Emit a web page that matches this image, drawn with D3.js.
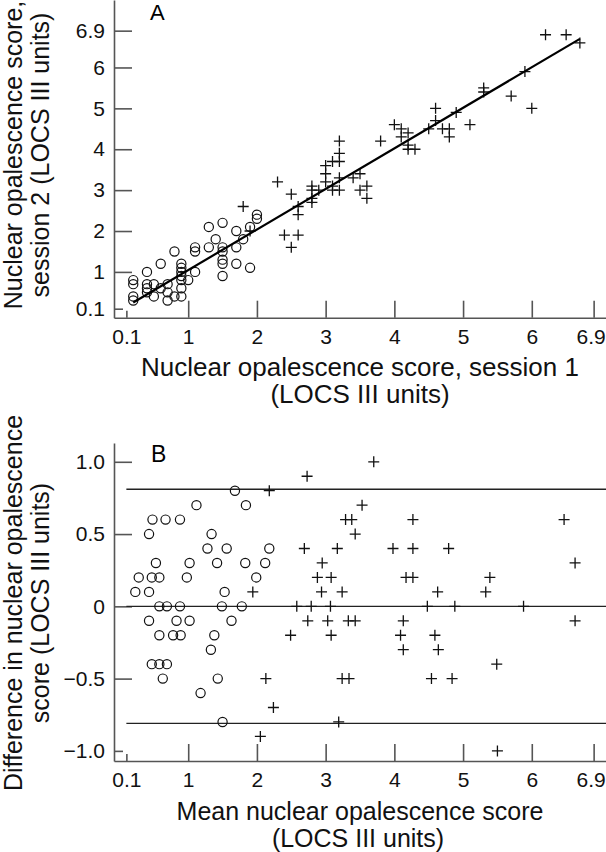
<!DOCTYPE html>
<html><head><meta charset="utf-8">
<script src="https://cdn.jsdelivr.net/npm/d3@7"></script>
<style>body{margin:0;background:#fff}svg{display:block}</style>
</head><body><svg id="c" width="606" height="852"></svg>
<script>
// ---------- data ----------
const xTickValues = [0.1, 1, 2, 3, 4, 5, 6, 6.9];
const xTickLabels = ["0.1", "1", "2", "3", "4", "5", "6", "6.9"];
const aYTickValues = [0.1, 1, 2, 3, 4, 5, 6, 6.9];
const aYTickLabels = ["0.1", "1", "2", "3", "4", "5", "6", "6.9"];
const bYTickValues = [-1, -0.5, 0, 0.5, 1];
const bYTickLabels = ["\u22121.0", "\u22120.5", "0", "0.5", "1.0"];

// Panel A: circles (session 1, session 2)
const circS1 = [0.2,0.2,0.2,0.2, 0.4,0.4,0.4,0.4, 0.5,0.5, 0.6,0.6, 0.7,0.7,0.7, 0.8,0.8,
  0.9,0.9,0.9,0.9,0.9,0.9,0.9, 1.0, 1.1,1.1,1.1, 1.3,1.3, 1.4, 1.5,1.5,1.5,1.5,1.5,1.5,
  1.7,1.7,1.7, 1.8, 1.9,1.9, 2.0,2.0];
const circS2 = [0.8,0.7,0.4,0.3, 1.0,0.7,0.6,0.5, 0.7,0.4, 1.2,0.6, 0.7,0.5,0.3, 1.5,0.4,
  1.2,1.1,1.0,0.9,0.8,0.6,0.4, 0.8, 1.0,1.6,1.5, 2.1,1.6, 1.8, 2.2,1.6,1.5,1.3,1.2,0.9,
  2.0,1.6,1.2, 1.8, 2.1,1.1, 2.4,2.3];
// Panel A: crosses (session 1, session 2)
const crossS1 = [3.2,2.3,1.8,3.2,3.0,3.1,4.0,6.2,3.2,2.5,3.0,3.8,4.1,4.6,2.8,6.5,2.8,3.0,4.1,4.2,
  5.3,1.9,2.9,3.2,4.6,5.3,2.6,2.8,3.1,4.5,4.9,5.9,2.8,3.1,3.4,3.5,4.2,6.7,2.6,3.2,
  4.2,4.7,4.3,4.8,5.7,2.4,3.5,3.6,4.8,5.1,2.6,3.6,2.5,6.0];
const crossS2 = [4.2,3.2,2.6,3.9,3.6,3.7,4.6,6.8,3.7,2.9,3.4,4.2,4.5,5.0,3.1,6.8,3.0,3.2,4.3,4.4,
  5.5,2.0,3.0,3.3,4.7,5.4,2.6,2.8,3.1,4.5,4.9,5.9,2.7,3.0,3.3,3.4,4.1,6.6,2.4,3.0,
  4.0,4.5,4.0,4.5,5.3,1.9,3.0,3.1,4.3,4.6,1.9,2.8,1.6,5.0];
const fitX = [0.2, 6.7];
const fitY = [0.25, 6.7];

// Panel B: circles (mean, difference)
const bCircMean = [1.68, 1.12,1.84, 0.48,0.67,0.88, 0.43,1.34, 1.28,1.56,2.18,
  0.53,1.02,1.42,1.83,2.12, 0.28,0.47,0.58,0.98,1.99, 0.23,0.43,1.53,
  0.58,0.69,0.88,1.49,1.78, 0.43,0.83,1.02,1.63, 0.58,0.78,0.89,1.38, 1.33,
  0.47,0.58,0.69, 0.63,1.43, 1.18, 1.50];
const bCircDiff = [0.8, 0.7,0.7, 0.6,0.6,0.6, 0.5,0.5, 0.4,0.4,0.4,
  0.3,0.3,0.3,0.3,0.3, 0.2,0.2,0.2,0.2,0.2, 0.1,0.1,0.1,
  0,0,0,0,0, -0.1,-0.1,-0.1,-0.1, -0.2,-0.2,-0.2,-0.2, -0.3,
  -0.4,-0.4,-0.4, -0.5,-0.5, -0.6, -0.8];
// Panel B: crosses (mean, difference)
const bCrossMean = [3.7, 2.73, 2.18, 3.53, 3.29,3.38,4.27,6.47, 3.43,
  2.69,3.17,3.98,4.27,4.79, 2.95,6.63, 2.88,3.08,4.17,4.27,5.39,
  1.94,2.94,3.24,4.63,5.33, 2.58,2.79,3.07,4.48,4.88,5.88,
  2.74,3.03,3.33,3.43,4.13,6.63, 2.49,3.08,4.09,4.59, 4.13,4.64, 5.49,
  2.13,3.24,3.34,4.54,4.84, 2.24, 3.19, 2.05, 5.5];
const bCrossDiff = [1.0, 0.9, 0.8, 0.7, 0.6,0.6,0.6,0.6, 0.5,
  0.4,0.4,0.4,0.4,0.4, 0.3,0.3, 0.2,0.2,0.2,0.2,0.2,
  0.1,0.1,0.1,0.1,0.1, 0,0,0,0,0,0,
  -0.1,-0.1,-0.1,-0.1,-0.1,-0.1, -0.2,-0.2,-0.2,-0.2, -0.3,-0.3, -0.4,
  -0.5,-0.5,-0.5,-0.5,-0.5, -0.7, -0.8, -0.9, -1.0];
const limitValues = [0.81, 0, -0.81];

// ---------- layout ----------
const FONT = '"Liberation Sans", Arial, Helvetica, sans-serif';
const svg = d3.select("#c");
const axisColor = "#555";

const x = d3.scaleLinear().domain([-0.08, 7.08]).range([114, 606]);
const yA = d3.scaleLinear().domain([-0.12, 7.65]).range([317.7, 0]);
const yB = d3.scaleLinear().domain([-1.07, 1.13]).range([761, 443]);

function styleAxis(g) {
  g.attr("font-family", FONT).attr("font-size", 21);
  g.selectAll("path.domain").attr("stroke", axisColor).attr("stroke-width", 1.6);
  g.selectAll(".tick line").attr("stroke", axisColor).attr("stroke-width", 1.6);
  g.selectAll(".tick text").attr("fill", "#111");
}

function drawPanel(y, yTickVals, yTickLabs, shortYTick) {
  const gx = svg.append("g").attr("transform", `translate(0,${y.range()[0]})`)
    .call(d3.axisBottom(x).tickValues(xTickValues)
      .tickFormat((d, i) => xTickLabels[i]).tickSize(-17).tickSizeOuter(0).tickPadding(11));
  styleAxis(gx);
  gx.selectAll(".tick").filter(d => d === 0.1).select("line").attr("y2", -7);
  gx.selectAll(".tick").filter(d => d === 6.9).select("text").attr("dx", -3);

  const gy = svg.append("g").attr("transform", `translate(${x.range()[0]},0)`)
    .call(d3.axisLeft(y).tickValues(yTickVals)
      .tickFormat((d, i) => yTickLabs[i]).tickSize(-18).tickSizeOuter(0).tickPadding(9));
  styleAxis(gy);
  gy.selectAll(".tick").filter(d => d === shortYTick).select("line").attr("x2", 9);
}

function crosses(g, xs, ys, y) {
  g.selectAll(null).data(xs).join("path")
    .attr("d", (d, i) => `M${x(d) - 5.5},${y(ys[i])}h11M${x(d)},${y(ys[i]) - 5.5}v11`)
    .attr("stroke", "#111").attr("stroke-width", 1.3).attr("fill", "none");
}
function circles(g, xs, ys, y) {
  g.selectAll(null).data(xs).join("circle")
    .attr("cx", d => x(d)).attr("cy", (d, i) => y(ys[i])).attr("r", 4.6)
    .attr("fill", "none").attr("stroke", "#111").attr("stroke-width", 1.2);
}

// ---------- Panel A ----------
drawPanel(yA, aYTickValues, aYTickLabels, 0.1);
const gA = svg.append("g");
circles(gA, circS1, circS2, yA);
crosses(gA, crossS1, crossS2, yA);
gA.append("line")
  .attr("x1", x(fitX[0])).attr("y1", yA(fitY[0]))
  .attr("x2", x(fitX[1])).attr("y2", yA(fitY[1]))
  .attr("stroke", "#000").attr("stroke-width", 2.2);

svg.append("text").attr("x", 150).attr("y", 20).text("A")
  .attr("font-family", FONT).attr("font-size", 22);

// ---------- Panel B ----------
drawPanel(yB, bYTickValues, bYTickLabels, -1);
const gB = svg.append("g");
gB.selectAll(null).data(limitValues).join("line")
  .attr("x1", x(0.1)).attr("x2", x.range()[1])
  .attr("y1", d => yB(d)).attr("y2", d => yB(d))
  .attr("stroke", "#222").attr("stroke-width", 1.3);
circles(gB, bCircMean, bCircDiff, yB);
crosses(gB, bCrossMean, bCrossDiff, yB);

svg.append("text").attr("x", 151).attr("y", 462).text("B")
  .attr("font-family", FONT).attr("font-size", 23);

// ---------- axis titles ----------
function title(txt, tx, ty, rot, size) {
  svg.append("text").attr("transform", `translate(${tx},${ty}) rotate(${rot})`)
    .attr("text-anchor", "middle").attr("font-family", FONT).attr("font-size", size || 25)
    .attr("fill", "#111").text(txt);
}
title("Nuclear opalescence score, session 1", 360, 376, 0, 26);
title("(LOCS III units)", 360, 403, 0, 26);
title("Nuclear opalescence score,", 22, 155, -90);
title("session 2 (LOCS III units)", 49, 155, -90);

title("Mean nuclear opalescence score", 360, 820, 0);
title("(LOCS III units)", 358, 847, 0);
title("Difference in nuclear opalescence", 22, 603, -90);
title("score (LOCS III units)", 49, 603, -90);
</script>
</body></html>
